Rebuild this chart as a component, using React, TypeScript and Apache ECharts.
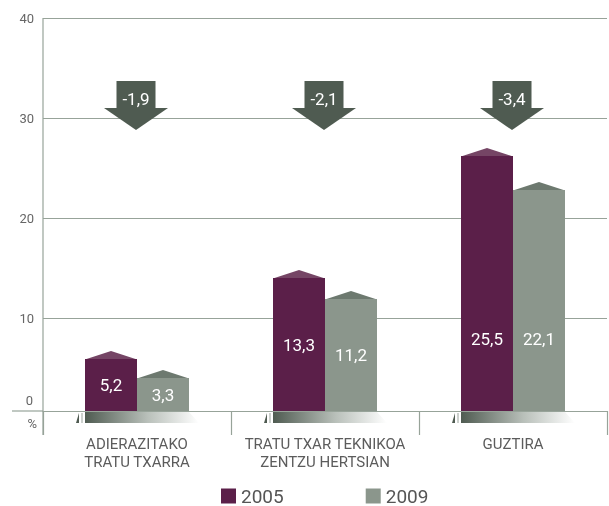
import React, { useEffect, useRef } from "react";
import * as echarts from "echarts";

const categories = ["ADIERAZITAKO\nTRATU TXARRA", "TRATU TXAR TEKNIKOA\nZENTZU HERTSIAN", "GUZTIRA"];
const years = ["2005", "2009"];
const values2005 = [5.2, 13.3, 25.5];
const values2009 = [3.3, 11.2, 22.1];
const changes = [-1.9, -2.1, -3.4];

const C2005 = "#5b1f49";
const C2005_ROOF = "#754565";
const C2009 = "#8b968c";
const C2009_ROOF = "#6d796f";
const ARROW = "#4f5b51";
const LINE = "#97a399";
const BAR_W = 52;
const ARROW_TOP = 33;
const NUM_FONT = "Roboto, 'Noto Sans', sans-serif";
const CAT_FONT = "Roboto, sans-serif";

const fmt = (v: number) => String(v).replace(".", ",");

function roofSeries(values: number[], offset: number, color: string) {
  return {
    type: "custom",
    xAxisIndex: 0,
    yAxisIndex: 0,
    silent: true,
    z: 3,
    data: values.map((v, i) => [i, v]),
    renderItem: (_p: any, api: any) => {
      const c = api.coord([api.value(0), api.value(1)]);
      const cx = c[0] + offset;
      return {
        type: "polygon",
        shape: { points: [[cx - BAR_W / 2, c[1] + 0.5], [cx, c[1] - 8], [cx + BAR_W / 2, c[1] + 0.5]] },
        style: { fill: color },
      };
    },
  };
}

export default function App() {
  const ref = useRef<HTMLDivElement>(null);
  useEffect(() => {
    if (!ref.current) return;
    const chart = echarts.init(ref.current, null, { renderer: "svg" });
    const labelFor = (i: number) =>
      i === 2
        ? { position: "insideBottom", distance: 64 }
        : { position: "inside" };
    chart.setOption({
      animation: false,
      grid: [
        { left: 43, right: 2, top: 11, bottom: 95 },
        { left: 43, right: 2, top: 18, height: 300 },
      ],
      legend: {
        data: years,
        left: 221,
        top: 486,
        padding: 0,
        icon: "rect",
        itemWidth: 15,
        itemHeight: 15,
        itemGap: 82,
        textStyle: { fontSize: 19, lineHeight: 20, color: "#555", fontFamily: NUM_FONT },
      },
      xAxis: [
        {
          type: "category",
          gridIndex: 0,
          data: categories,
          axisLine: { show: true, lineStyle: { color: LINE, width: 1.2 } },
          axisTick: { show: true, length: 24, lineStyle: { color: LINE, width: 1.2 } },
          axisLabel: {
            interval: 0,
            hideOverlap: false,
            margin: 24,
            fontSize: 15,
            lineHeight: 18,
            color: "#5c5c5c",
            fontFamily: CAT_FONT,
          },
        },
        { type: "value", gridIndex: 1, show: false, min: 0, max: 1 },
      ],
      yAxis: [
        {
          type: "value",
          gridIndex: 0,
          min: 0,
          max: 40,
          interval: 40,
          name: "%",
          nameLocation: "start",
          nameGap: 6,
          nameTextStyle: {
            align: "right",
            verticalAlign: "top",
            padding: [0, 6, 0, 0],
            fontSize: 13,
            color: "#666",
            fontFamily: NUM_FONT,
          },
          axisLine: { show: false },
          axisTick: { show: false },
          splitLine: { show: false },
          axisLabel: {
            formatter: (v: number) => (v === 0 ? "0" : ""),
            verticalAlign: "bottom",
            margin: 10,
            fontSize: 13,
            color: "#666",
            fontFamily: NUM_FONT,
            padding: [0, 0, 4, 0],
          },
        },
        {
          type: "value",
          gridIndex: 1,
          min: 10,
          max: 40,
          interval: 10,
          axisLine: { show: false },
          axisTick: { show: false },
          splitLine: { show: true, lineStyle: { color: LINE, width: 1.2 } },
          axisLabel: { margin: 9, fontSize: 13, color: "#666", fontFamily: NUM_FONT },
        },
      ],
      graphic: [
        { type: "line", shape: { x1: 43, y1: 18, x2: 43, y2: 435 }, style: { stroke: LINE, lineWidth: 1.2 }, z: 10 },
        { type: "line", shape: { x1: 12, y1: 411, x2: 43, y2: 411 }, style: { stroke: LINE, lineWidth: 1.2 }, z: 10 },
      ],
      series: [
        {
          name: "2005",
          type: "bar",
          xAxisIndex: 0,
          yAxisIndex: 0,
          barWidth: BAR_W,
          barGap: "0%",
          itemStyle: { color: C2005 },
          z: 4,
          data: values2005.map((v, i) => ({ value: v, label: labelFor(i) })),
          label: {
            show: true,
            color: "#fff",
            fontSize: 17,
            fontFamily: NUM_FONT,
            formatter: (p: any) => fmt(p.value),
          },
        },
        {
          name: "2009",
          type: "bar",
          xAxisIndex: 0,
          yAxisIndex: 0,
          barWidth: BAR_W,
          barGap: "0%",
          itemStyle: { color: C2009 },
          z: 4,
          data: values2009.map((v, i) => ({ value: v, label: labelFor(i) })),
          label: {
            show: true,
            color: "#fff",
            fontSize: 17,
            fontFamily: NUM_FONT,
            formatter: (p: any) => fmt(p.value),
          },
        },
        roofSeries(values2005, -BAR_W / 2, C2005_ROOF),
        roofSeries(values2009, BAR_W / 2, C2009_ROOF),
        {
          type: "custom",
          xAxisIndex: 0,
          yAxisIndex: 0,
          silent: true,
          z: 2,
          clip: false,
          data: categories.map((_c, i) => [i, 0]),
          renderItem: (_p: any, api: any) => {
            const c = api.coord([api.value(0), 0]);
            const x0 = c[0] - BAR_W;
            const x1 = c[0] + BAR_W;
            const y = c[1] + 1;
            return {
              type: "group",
              children: [
                {
                  type: "polygon",
                  shape: { points: [[x0, y], [x1, y], [x1 + 10, y + 11], [x0, y + 11]] },
                  style: {
                    fill: new echarts.graphic.LinearGradient(0, 0, 1, 0, [
                      { offset: 0, color: "#4f5b51" },
                      { offset: 0.55, color: "#b9c0ba" },
                      { offset: 1, color: "#ffffff" },
                    ]),
                  },
                },
                {
                  type: "polygon",
                  shape: { points: [[x0 - 6, y + 1], [x0 - 6, y + 11], [x0 - 9, y + 11]] },
                  style: { fill: "#4f5b51" },
                },
                {
                  type: "line",
                  shape: { x1: x0 - 3, y1: y + 1, x2: x0 - 3, y2: y + 11 },
                  style: { stroke: "#9aa39c", lineWidth: 1 },
                },
              ],
            };
          },
        },
        {
          type: "custom",
          xAxisIndex: 0,
          yAxisIndex: 0,
          silent: true,
          z: 5,
          data: changes.map((v, i) => [i, v]),
          renderItem: (_p: any, api: any) => {
            const cx = api.coord([api.value(0), 0])[0] - 1;
            const top = api.coord([api.value(0), ARROW_TOP])[1];
            return {
              type: "group",
              children: [
                { type: "rect", shape: { x: cx - 19.5, y: top, width: 39, height: 27 }, style: { fill: ARROW } },
                {
                  type: "polygon",
                  shape: { points: [[cx - 32, top + 27], [cx + 32, top + 27], [cx, top + 49]] },
                  style: { fill: ARROW },
                },
                {
                  type: "text",
                  style: {
                    text: fmt(api.value(1)),
                    x: cx,
                    y: top + 18,
                    align: "center",
                    verticalAlign: "middle",
                    fill: "#fff",
                    fontSize: 17,
                    fontFamily: NUM_FONT,
                  },
                },
              ],
            };
          },
        },
      ],
    });
    return () => chart.dispose();
  }, []);
  return <div ref={ref} style={{ position: "fixed", left: 0, top: 0, width: 609, height: 506 }} />;
}
